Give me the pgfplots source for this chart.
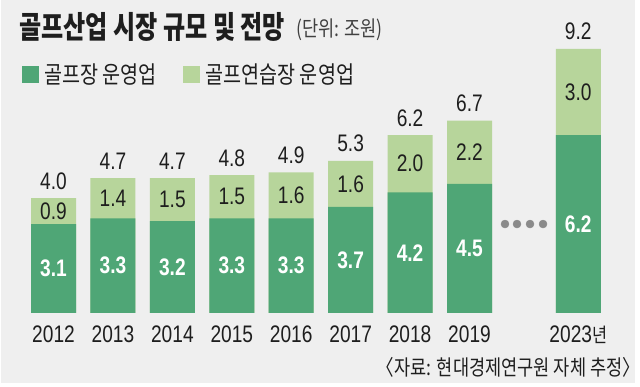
\documentclass[border=0pt]{standalone}
\usepackage{pgfplots}
\pgfplotsset{compat=1.18}
\usepackage{pgfplotstable}
\usepackage{fontspec}
\setmainfont[FakeStretch=0.8]{Liberation Sans}
\newfontfamily\kr[FakeStretch=0.82]{Noto Sans CJK KR}
\newfontfamily\krt[FakeStretch=0.78]{Noto Sans CJK KR}
\definecolor{dk}{HTML}{4FA676}
\definecolor{lt}{HTML}{B7D59B}
\definecolor{bg}{HTML}{EFEFEF}
\definecolor{txt}{HTML}{1E1E1E}
\definecolor{dotc}{HTML}{8A8A8A}

\pgfplotstableread{
x    dark light total dl  ll  tl
0    3.1  0.9   4.0   3.1 0.9 4.0
1    3.3  1.4   4.7   3.3 1.4 4.7
2    3.2  1.5   4.7   3.2 1.5 4.7
3    3.3  1.5   4.8   3.3 1.5 4.8
4    3.3  1.6   4.9   3.3 1.6 4.9
5    3.7  1.6   5.3   3.7 1.6 5.3
6    4.2  2.0   6.2   4.2 2.0 6.2
7    4.5  2.2   6.7   4.5 2.2 6.7
8.83 6.2  3.0   9.2   6.2 3.0 9.2
}\golf

\begin{document}
\begin{tikzpicture}
\fill[white] (0,0) rectangle (640bp,387bp);
\fill[bg] (1bp,4bp) rectangle (635bp,387bp);
\begin{axis}[
  at={(23.8bp,74bp)}, anchor=south west,
  scale only axis, width=582.4bp, height=287bp,
  xmin=-0.5, xmax=9.3, ymin=0, ymax=10,
  clip=false,
  axis line style={draw=none},
  ytick=\empty,
  xtick={0,1,2,3,4,5,6,7,8.83},
  xticklabels={2012,2013,2014,2015,2016,2017,2018,2019,{2023{\kr\fontsize{20}{20}\selectfont 년}}},
  major tick length=0pt,
  xticklabel style={anchor=base, yshift=-30bp, text=txt, font=\fontsize{24}{24}\selectfont, inner sep=0pt},
  legend columns=2,
  legend style={at={(axis description cs:-0.0031,0.868)}, anchor=north west,
    draw=none, fill=none, inner sep=0pt, outer sep=0pt,
    font=\kr\fontsize{24}{24}\selectfont, text=txt,
    nodes={inner xsep=6bp, inner ysep=0pt},
    /tikz/every even column/.append style={column sep=20bp}},
  legend cell align=left,
]
\addlegendimage{legend image code/.code={\fill[dk] (0bp,-8bp) rectangle (16bp,8bp);}}
\addlegendentry{골프장 운영업}
\addlegendimage{legend image code/.code={\fill[lt] (0bp,-8bp) rectangle (16bp,8bp);}}
\addlegendentry{골프연습장 운영업}

\addplot[ybar, bar width=45bp, bar shift=0pt, fill=lt, draw=none, forget plot]
  table[x=x, y=total] {\golf};
\addplot[ybar, bar width=45bp, bar shift=0pt, fill=dk, draw=none, forget plot]
  table[x=x, y=dark] {\golf};

% segment labels
\addplot[only marks, mark size=0pt, mark options={draw=none,fill=none}, forget plot,
  nodes near coords, point meta=explicit symbolic,
  every node near coord/.style={anchor=center, text=white, inner sep=0pt,
    font=\bfseries\fontsize{24}{24}\selectfont}]
  table[x=x, y expr=\thisrow{dark}/2, meta=dl] {\golf};
\addplot[only marks, mark size=0pt, mark options={draw=none,fill=none}, forget plot,
  nodes near coords, point meta=explicit symbolic,
  every node near coord/.style={anchor=center, text=txt, inner sep=0pt,
    font=\fontsize{24}{24}\selectfont}]
  table[x=x, y expr=\thisrow{dark}+\thisrow{light}/2, meta=ll] {\golf};
\addplot[only marks, mark size=0pt, mark options={draw=none,fill=none}, forget plot,
  nodes near coords, point meta=explicit symbolic,
  every node near coord/.style={anchor=base, yshift=9bp, text=txt, inner sep=0pt,
    font=\fontsize{24}{24}\selectfont}]
  table[x=x, y=total, meta=tl] {\golf};

% ellipsis dots
\addplot[only marks, mark=*, mark size=4bp, color=dotc, forget plot]
  coordinates {(7.597,3.10) (7.799,3.10) (8.018,3.10) (8.237,3.10)};
\end{axis}

\node[anchor=base west, inner sep=0pt, text=txt] at (19bp,348bp)
  {\krt\bfseries\fontsize{31}{31}\selectfont 골프산업 시장 규모 및 전망};
\node[anchor=base west, inner sep=0pt, text=txt!85] at (296bp,350bp)
  {\kr\fontsize{21.5}{21.5}\selectfont (단위: 조원)};
\node[anchor=base east, inner sep=0pt, text=txt] at (627bp,12bp)
  {\kr\fontsize{21.5}{21.5}\selectfont 〈자료: 현대경제연구원 자체 추정〉\kern-0.62em};
\end{tikzpicture}
\end{document}
